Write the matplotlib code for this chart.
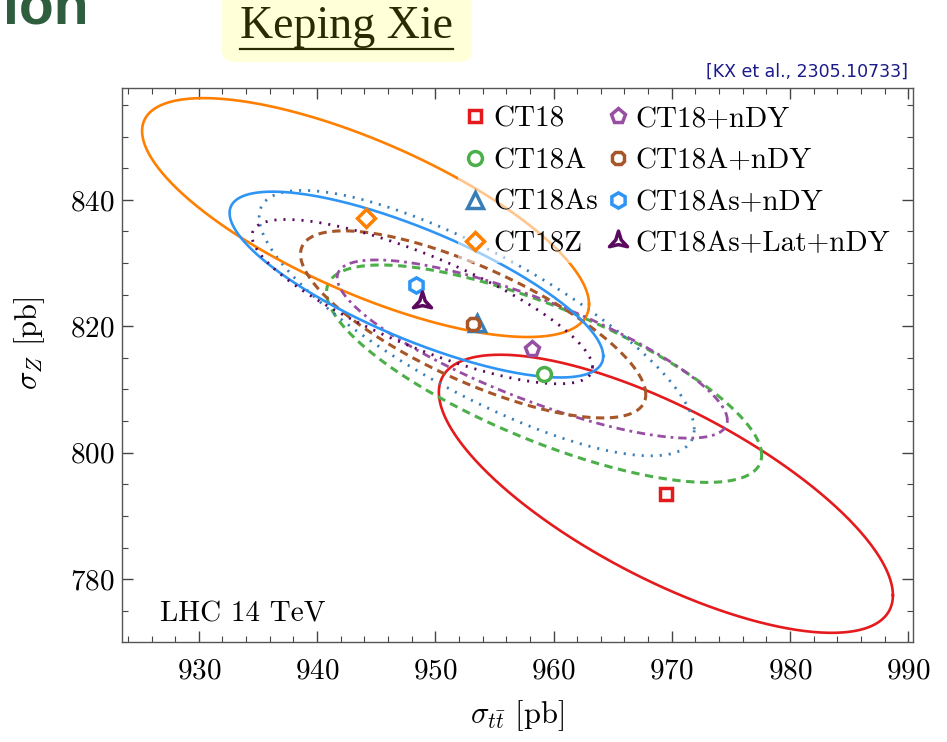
import numpy as np
import matplotlib
matplotlib.use("Agg")
import matplotlib.pyplot as plt
from matplotlib.patches import FancyBboxPatch
from matplotlib.lines import Line2D
from matplotlib.path import Path

plt.rcParams['font.family'] = 'cmr10'
plt.rcParams['mathtext.fontset'] = 'cm'
plt.rcParams['axes.formatter.use_mathtext'] = True
plt.rcParams['lines.scale_dashes'] = False

# central values and 1-sigma ellipse parameters (pb)
names = ["CT18", "CT18A", "CT18As", "CT18Z",
         "CT18+nDY", "CT18A+nDY", "CT18As+nDY", "CT18As+Lat+nDY"]
sig_tt = [969.5, 959.2, 953.5, 944.1, 958.2, 953.2, 948.4, 948.9]
sig_z = [793.5, 812.5, 820.5, 837.2, 816.4, 820.3, 826.6, 823.9]
err_tt = [19.2, 18.4, 18.4, 18.9, 16.5, 14.6, 15.8, 14.4]
err_z = [22.0, 17.2, 21.0, 18.9, 14.1, 14.8, 14.7, 13.0]
corr = [-0.73, -0.75, -0.80, -0.725, -0.80, -0.75, -0.77, -0.80]

# three-pointed star with concave sides
ang_out = np.deg2rad([90, 210, 330])
ang_in = np.deg2rad([150, 270, 30])
verts = []
for a, b in zip(ang_out, ang_in):
    verts.append((np.cos(a), np.sin(a)))
    verts.append((0.3 * np.cos(b), 0.3 * np.sin(b)))
verts.append(verts[0])
tristar = Path(verts, [Path.MOVETO] + [Path.LINETO] * 5 + [Path.CLOSEPOLY])

colors = ['#e41a1c', '#4daf4a', '#377eb8', '#ff7f00',
          '#984ea3', '#a65628', '#2f95f5', '#5a0a5e']
markers = ['s', 'o', '^', 'D', 'p', '8', 'h', tristar]
msizes = [9, 10, 11, 9, 11, 10, 11, 15]
styles = ['-', (0, (6, 4)), (0, (1.5, 5)), '-',
          (0, (6, 3.5, 2, 3.5)), (0, (6, 4)), '-', (0, (1.5, 5))]
widths = [1.9, 2.2, 2.0, 1.9, 2.0, 2.2, 1.9, 2.0]

fig = plt.figure(figsize=(9.47, 7.42), dpi=100)
ax = fig.add_axes([0.1288, 0.1352, 0.8353, 0.7462])

t = np.linspace(0, 2 * np.pi, 400)
for i in range(len(names)):
    x = sig_tt[i] + err_tt[i] * np.cos(t)
    y = sig_z[i] + err_z[i] * (corr[i] * np.cos(t) + np.sqrt(1 - corr[i] ** 2) * np.sin(t))
    ax.plot(x, y, color=colors[i], ls=styles[i], lw=widths[i], zorder=2)

for i in range(len(names)):
    ax.plot(sig_tt[i], sig_z[i], ls='none', marker=markers[i], ms=msizes[i],
            mec=colors[i], mfc='white', mew=2.5, label=names[i], zorder=4)

ax.set_xlim(923.5, 990.4)
ax.set_ylim(770.1, 857.7)
ax.set_xticks(np.arange(930, 991, 10))
ax.set_xticks(np.arange(924, 991, 2), minor=True)
ax.set_yticks(np.arange(780, 841, 20))
ax.set_yticks(np.arange(775, 858, 5), minor=True)
ax.tick_params(which='both', direction='in', top=True, right=True, color='#444444')
ax.tick_params(which='major', length=8, width=1, labelsize=21)
ax.tick_params(which='minor', length=4.5, width=0.8)
ax.tick_params(axis='x', pad=12)
ax.tick_params(axis='y', pad=5)
for s in ax.spines.values():
    s.set_color('#555555')
    s.set_linewidth(1.0)

ax.set_xlabel(r'$\sigma_{t\bar{t}}$ [pb]', fontsize=22)
ax.set_ylabel(r'$\sigma_Z$ [pb]', fontsize=22)
ax.xaxis.set_label_coords(0.4994, -0.102)
ax.yaxis.set_label_coords(-0.095, 0.539)

ax.text(0.048, 0.036, 'LHC 14 TeV', transform=ax.transAxes, fontsize=21,
        va='baseline', ha='left')

leg = ax.legend(ncol=2, loc='upper right', bbox_to_anchor=(0.997, 1.004),
                fontsize=21, frameon=True, framealpha=0.55, facecolor='white',
                edgecolor='none', handlelength=0.8, handletextpad=0.2,
                columnspacing=0.3, labelspacing=0.52, borderpad=0.2,
                fancybox=False)

# slide header pieces
fig.text(3 / 947, 1 - 23 / 742, 'ion', fontsize=41, fontweight='bold',
         family='Liberation Sans', color='#2f5e3e', va='baseline', ha='left')
box = FancyBboxPatch((222 / 947, 1 - 62 / 742), 250 / 947, 80 / 742,
                     boxstyle='round,pad=0,rounding_size=0.015',
                     transform=fig.transFigure, fc='#ffffd8', ec='none')
fig.add_artist(box)
fig.text(347 / 947, 1 - 38 / 742, 'Keping Xie', fontsize=33,
         family='Liberation Serif', color='#2a2a00', va='baseline', ha='center')
fig.add_artist(Line2D([240 / 947, 453 / 947], [1 - 48.5 / 742, 1 - 48.5 / 742],
                      transform=fig.transFigure, color='#2a2a00', lw=1.6))
fig.text(908 / 947, 1 - 77 / 742, '[KX et al., 2305.10733]', fontsize=12.5,
         family='DejaVu Sans', color='#1a1a8a', va='baseline', ha='right')

fig.savefig('out.png', dpi=100)
